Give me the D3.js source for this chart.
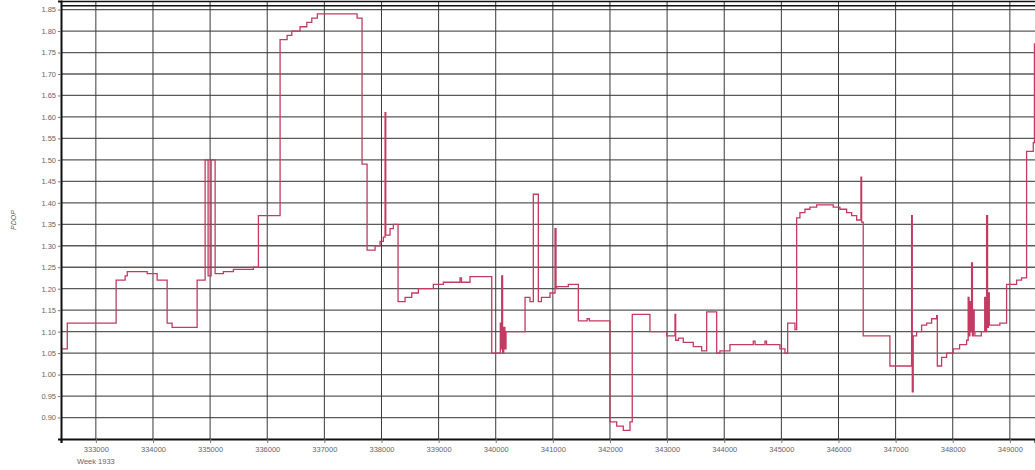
<!DOCTYPE html>
<html>
<head>
<meta charset="utf-8">
<script src="https://cdn.jsdelivr.net/npm/d3@7"></script>
<style>
  body { margin: 0; background: #fff; }
  svg { display: block; font-family: "Liberation Sans", Arial, sans-serif; }
</style>
</head>
<body>
<svg id="chart"></svg>
<script>
const width = 1035;
const height = 470;
const margin = { top: 1, right: 0, bottom: 31, left: 61 };

// GPS time of week (s) and PDOP, step series
const gpsTime = [
  332390, 332500, 333355, 333513, 333550, 333898, 334073, 334248, 334335, 334773,
  334913, 334965, 335018, 335088, 335233, 335408, 335758, 335846, 336225, 336348,
  336430, 336575, 336693, 336780, 336878, 337573, 337660, 337748, 337888, 337975,
  338033, 338063, 338075, 338150, 338208, 338290, 338413, 338530, 338646, 338908,
  339083, 339375, 339400, 339550, 339930, 340080, 340095, 340105, 340120, 340140,
  340160, 340180, 340513, 340600, 340658, 340746, 340800, 340950, 341038, 341055,
  341068, 341271, 341446, 341600, 341640, 342000, 342118, 342233, 342350, 342390,
  342700, 342993, 343138, 343150, 343200, 343283, 343458, 343605, 343693, 343868,
  343925, 344100, 344508, 344540, 344713, 344740, 344975, 345063, 345110, 345238,
  345268, 345325, 345413, 345500, 345618, 345908, 346025, 346143, 346230, 346318,
  346393, 346405, 346433, 346900, 347280, 347292, 347308, 347368, 347455, 347543,
  347630, 347718, 347730, 347805, 347893, 348008, 348120, 348243, 348270, 348285,
  348300, 348315, 348330, 348345, 348360, 348375, 348388, 348500, 348560, 348575,
  348593, 348610, 348625, 348640, 348825, 348943, 349118, 349205, 349293, 349410,
  349430, 349440
];
const pdop = [
  1.06, 1.12, 1.22, 1.23, 1.24, 1.235, 1.22, 1.12, 1.11, 1.22,
  1.50, 1.23, 1.50, 1.235, 1.24, 1.245, 1.25, 1.37, 1.78, 1.79,
  1.80, 1.81, 1.82, 1.83, 1.84, 1.83, 1.49, 1.29, 1.30, 1.31,
  1.32, 1.61, 1.325, 1.34, 1.35, 1.17, 1.18, 1.19, 1.20, 1.21,
  1.215, 1.225, 1.215, 1.228, 1.05, 1.12, 1.06, 1.23, 1.05, 1.11,
  1.06, 1.10, 1.18, 1.17, 1.42, 1.17, 1.18, 1.19, 1.34, 1.20,
  1.205, 1.21, 1.125, 1.13, 1.125, 0.89, 0.88, 0.87, 0.89, 1.14,
  1.10, 1.09, 1.14, 1.08, 1.085, 1.075, 1.065, 1.055, 1.146, 1.05,
  1.055, 1.07, 1.078, 1.07, 1.078, 1.07, 1.06, 1.05, 1.12, 1.105,
  1.365, 1.377, 1.385, 1.39, 1.395, 1.39, 1.385, 1.377, 1.37, 1.36,
  1.46, 1.355, 1.09, 1.02, 1.37, 0.96, 1.09, 1.10, 1.115, 1.12,
  1.13, 1.137, 1.02, 1.04, 1.05, 1.06, 1.07, 1.08, 1.18, 1.09,
  1.17, 1.10, 1.26, 1.09, 1.15, 1.10, 1.09, 1.10, 1.18, 1.10,
  1.37, 1.11, 1.19, 1.115, 1.12, 1.21, 1.22, 1.225, 1.52, 1.54,
  1.77, 1.77
];

const xTicks = d3.range(333000, 349001, 1000);
const yTicks = d3.range(0, 20).map(i => +(0.90 + i * 0.05).toFixed(2));
const weekLabel = "Week 1933";
const yLabel = "PDOP";

const data = gpsTime.map((t, i) => ({ t, v: pdop[i] }));

const svg = d3.select("#chart")
  .attr("width", width)
  .attr("height", height);

const x = d3.scaleLinear()
  .domain([332390, 349440])
  .range([margin.left, width - margin.right]);

const y = d3.scaleLinear()
  .domain([0.85, 1.87])
  .range([height - margin.bottom, margin.top]);

const plotW = width - margin.right - margin.left;
const plotH = height - margin.bottom - margin.top;

svg.append("defs").append("clipPath")
  .attr("id", "plot-clip")
  .append("rect")
  .attr("x", margin.left)
  .attr("y", margin.top)
  .attr("width", plotW)
  .attr("height", plotH);

// horizontal grid
svg.append("g")
  .selectAll("line")
  .data(yTicks)
  .enter()
  .append("line")
  .attr("x1", margin.left)
  .attr("x2", width)
  .attr("y1", d => y(d))
  .attr("y2", d => y(d))
  .attr("stroke", "#5a5a5a")
  .attr("stroke-width", 1.3);

// vertical grid
svg.append("g")
  .selectAll("line")
  .data(xTicks)
  .enter()
  .append("line")
  .attr("x1", d => x(d))
  .attr("x2", d => x(d))
  .attr("y1", margin.top)
  .attr("y2", height - margin.bottom)
  .attr("stroke", "#3a3a3a")
  .attr("stroke-width", 1);

// top frame (double rule)
svg.append("line")
  .attr("x1", margin.left).attr("x2", width)
  .attr("y1", y(1.87) + 0.5).attr("y2", y(1.87) + 0.5)
  .attr("stroke", "#111").attr("stroke-width", 1.5);
svg.append("line")
  .attr("x1", margin.left).attr("x2", width)
  .attr("y1", y(1.859)).attr("y2", y(1.859))
  .attr("stroke", "#111").attr("stroke-width", 1.5);

// PDOP line
const line = d3.line()
  .x(d => x(d.t))
  .y(d => y(d.v))
  .curve(d3.curveStepAfter);

svg.append("path")
  .datum(data)
  .attr("clip-path", "url(#plot-clip)")
  .attr("fill", "none")
  .attr("stroke", "#c43a62")
  .attr("stroke-width", 1.3)
  .attr("d", line);

// Y axis
const yAxis = d3.axisLeft(y)
  .tickValues(yTicks)
  .tickFormat(d3.format(".2f"))
  .tickSize(3)
  .tickPadding(2);

const yG = svg.append("g")
  .attr("transform", `translate(${margin.left},0)`)
  .call(yAxis);
yG.select(".domain").attr("stroke", "#111").attr("stroke-width", 2);
yG.selectAll(".tick line").attr("stroke", "#777");
yG.selectAll("text").attr("fill", "#666").style("font-size", "7.5px");

// X axis
const xAxis = d3.axisBottom(x)
  .tickValues(xTicks)
  .tickFormat(d3.format("d"))
  .tickSize(4)
  .tickPadding(4);

const xG = svg.append("g")
  .attr("transform", `translate(0,${height - margin.bottom})`)
  .call(xAxis);
xG.select(".domain").attr("stroke", "#111").attr("stroke-width", 2.2);
xG.selectAll(".tick line").attr("stroke", "#777");
xG.selectAll("text").attr("fill", "#666").style("font-size", "7.5px");

// week label under first tick
svg.append("text")
  .attr("x", x(xTicks[0]))
  .attr("y", height - margin.bottom + 25)
  .attr("text-anchor", "middle")
  .attr("fill", "#666")
  .style("font-size", "7.5px")
  .text(weekLabel);

// y title
svg.append("text")
  .attr("transform", `translate(16,${y(1.36)}) rotate(-90)`)
  .attr("text-anchor", "middle")
  .attr("fill", "#555")
  .style("font-size", "7px")
  .style("font-style", "italic")
  .text(yLabel);
</script>
</body>
</html>
